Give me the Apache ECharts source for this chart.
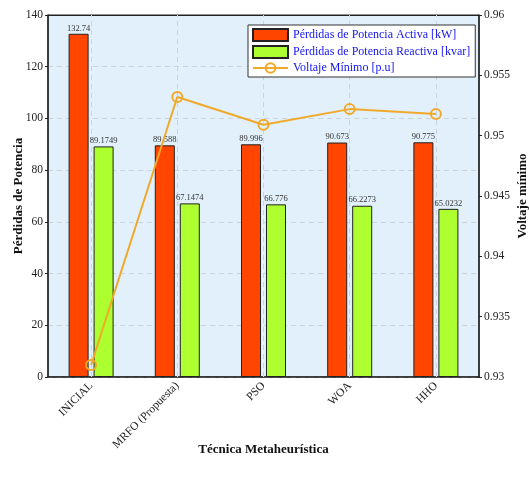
<!DOCTYPE html>
<html>
<head>
<meta charset="utf-8">
<script src="https://cdn.jsdelivr.net/npm/echarts@6/dist/echarts.min.js"></script>
<style>
  html, body { margin: 0; padding: 0; background: #fff; }
  #chart { width: 529px; height: 486px; }
</style>
</head>
<body>
<div id="chart"></div>
<script>
// Técnicas comparadas
const categories = ['INICIAL', 'MRFO (Propuesta)', 'PSO', 'WOA', 'HHO'];
// Pérdidas de potencia activa [kW]
const activeLoss = [132.74, 89.588, 89.996, 90.673, 90.775];
// Pérdidas de potencia reactiva [kvar]
const reactiveLoss = [89.1749, 67.1474, 66.776, 66.2273, 65.0232];
// Voltaje mínimo [p.u]
const minVoltage = [0.9310, 0.9532, 0.9509, 0.9522, 0.9518];

const FONT = '"Liberation Serif", "Times New Roman", serif';
const AXIS_COLOR = '#222';
const GUIDE = { color: '#C9D5DE', type: [5, 4], width: 1 };
const titleStyle = { fontFamily: FONT, fontSize: 13, fontWeight: 'bold', color: '#111' };

const chart = echarts.init(document.getElementById('chart'));

chart.setOption({
  backgroundColor: '#ffffff',
  animation: false,
  textStyle: { fontFamily: FONT },
  grid: {
    left: 48, right: 50, top: 15, bottom: 109,
    outerBoundsMode: 'none', containLabel: false,
    show: true, backgroundColor: '#E1F0FA', borderColor: AXIS_COLOR, borderWidth: 1
  },
  legend: {
    left: 248, top: 25, z: 10,
    orient: 'vertical',
    itemGap: 3,
    itemWidth: 35, itemHeight: 12,
    padding: [3, 5, 3, 4],
    borderColor: '#333', borderWidth: 1,
    backgroundColor: '#ffffff',
    textStyle: { fontFamily: FONT, fontSize: 12, color: '#1414F0' },
    data: [
      { name: 'Pérdidas de Potencia Activa [kW]', icon: 'rect' },
      { name: 'Pérdidas de Potencia Reactiva [kvar]', icon: 'rect' },
      { name: 'Voltaje Mínimo [p.u]' }
    ]
  },
  xAxis: [
    {
      type: 'category', data: categories, position: 'bottom',
      axisLine: { lineStyle: { color: AXIS_COLOR, width: 1.5 } },
      axisTick: { alignWithLabel: true, inside: true, length: 4, lineStyle: { color: AXIS_COLOR } },
      axisLabel: { rotate: 45, fontFamily: FONT, fontSize: 11.5, color: '#222', margin: 7 },
      splitLine: { show: false },
      name: 'Técnica Metaheurística', nameLocation: 'middle', nameGap: 66,
      nameMoveOverlap: false,
      nameTextStyle: titleStyle
    },
    {
      type: 'category', data: categories, position: 'top',
      axisLine: { lineStyle: { color: AXIS_COLOR, width: 1 } },
      axisTick: { alignWithLabel: true, inside: true, length: 4, lineStyle: { color: AXIS_COLOR } },
      axisLabel: { show: false },
      splitLine: { show: false }
    }
  ],
  yAxis: [
    {
      type: 'value', min: 0, max: 140, interval: 20,
      axisLine: { show: true, lineStyle: { color: AXIS_COLOR, width: 1.5 } },
      axisTick: { show: true, length: 3, lineStyle: { color: AXIS_COLOR } },
      axisLabel: { fontFamily: FONT, fontSize: 11.5, color: '#222', margin: 5 },
      splitLine: { show: true, lineStyle: GUIDE },
      name: 'Pérdidas de Potencia', nameLocation: 'middle', nameGap: 23, nameRotate: 90,
      nameMoveOverlap: false,
      nameTextStyle: titleStyle
    },
    {
      type: 'value', min: 0.93, max: 0.96, interval: 0.005, position: 'right',
      axisLine: { show: true, lineStyle: { color: AXIS_COLOR, width: 1.5 } },
      axisTick: { show: true, length: 3, lineStyle: { color: AXIS_COLOR } },
      axisLabel: { fontFamily: FONT, fontSize: 11.5, color: '#222', margin: 5,
        formatter: v => String(+v.toFixed(3)) },
      splitLine: { show: false },
      name: 'Voltaje mínimo', nameLocation: 'middle', nameGap: 37, nameRotate: 90,
      nameMoveOverlap: false,
      nameTextStyle: titleStyle
    }
  ],
  series: [
    {
      // vertical dashed guides at each technique, kept behind the bars
      type: 'line', name: 'guides', data: [], z: 1, silent: true,
      markLine: {
        z: 1, silent: true, symbol: 'none', label: { show: false },
        lineStyle: GUIDE,
        data: categories.map(c => ({ xAxis: c }))
      }
    },
    {
      type: 'bar', name: 'Pérdidas de Potencia Activa [kW]', data: activeLoss,
      barWidth: 20, barGap: '25%', z: 2,
      itemStyle: { color: '#FF4500', borderColor: '#222', borderWidth: 1 },
      label: { show: true, position: 'top', distance: 1, fontFamily: FONT, fontSize: 8.5, color: '#333' }
    },
    {
      type: 'bar', name: 'Pérdidas de Potencia Reactiva [kvar]', data: reactiveLoss,
      barWidth: 20, z: 2,
      itemStyle: { color: '#ADFF2F', borderColor: '#222', borderWidth: 1 },
      label: { show: true, position: 'top', distance: 1, fontFamily: FONT, fontSize: 8.5, color: '#333' }
    },
    {
      type: 'line', name: 'Voltaje Mínimo [p.u]', data: minVoltage, yAxisIndex: 1, z: 3,
      symbol: 'circle', symbolSize: 10,
      lineStyle: { color: '#F0A92A', width: 2 },
      itemStyle: { color: 'rgba(255,255,255,0)', borderColor: '#F0A92A', borderWidth: 2 }
    }
  ]
});
</script>
</body>
</html>
